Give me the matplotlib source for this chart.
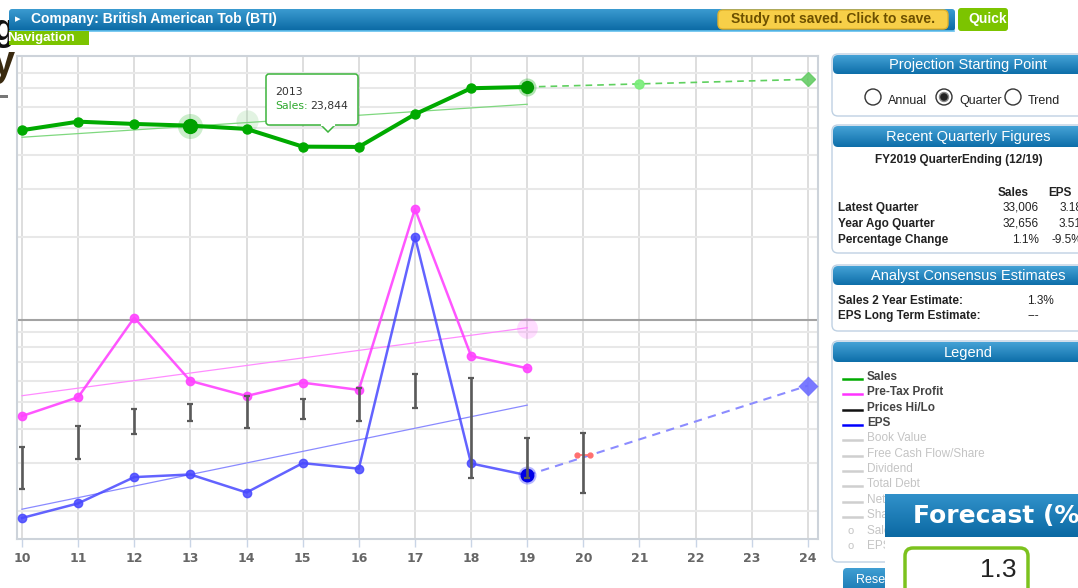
import numpy as np
import matplotlib
matplotlib.use("Agg")
import matplotlib.pyplot as plt
from matplotlib.patches import FancyBboxPatch, Circle, Polygon, Rectangle
from matplotlib.colors import to_rgb

# ---------------- data ----------------
years = [10, 11, 12, 13, 14, 15, 16, 17, 18, 19]
price_years = [10, 11, 12, 13, 14, 15, 16, 17, 18, 19, 20]
tick_years = [10, 11, 12, 13, 14, 15, 16, 17, 18, 19, 20, 21, 22, 23, 24]

sales = [22950, 24660, 24190, 23844, 23200, 19990, 19940, 26240, 32656, 33006]
pretax = [6760, 7920, 15450, 9080, 8000, 8950, 8420, 38520, 11200, 10100]
eps = [2.22, 2.51, 3.13, 3.20, 2.75, 3.52, 3.36, 23.6, 3.51, 3.18]
price_hi = [40.2, 48.2, 55.7, 57.9, 61.9, 60.4, 66.1, 74.5, 72.2, 43.4, 45.5]
price_lo = [28.3, 36.4, 44.9, 50.2, 47.2, 51.2, 50.2, 55.8, 31.0, 31.1, 27.5]

trend_x = [10, 19]
sales_trend = [21630, 28540]
pretax_trend = [8020, 14200]
eps_trend = [2.39, 5.73]

sales_proj_x = [19, 21, 24]
sales_proj = [33006, 33870, 35190]
eps_proj_x = [19, 24]
eps_proj = [3.18, 6.75]
eps_target_x = [19.89, 20.12]
eps_target = [3.78, 3.78]
sales_hover_x, sales_hover = 14, 24790

forecast_pct = "1.3"

# ---------------- figure ----------------
W, H = 1078, 588
fig = plt.figure(figsize=(W / 100, H / 100), dpi=100)
fig.patch.set_facecolor("white")


def rect(l, t, r, b):
    return [l / W, 1 - b / H, (r - l) / W, (b - t) / H]


# chart level range of the semi-log grid, each series is placed with its own factor
LEVEL_LO, LEVEL_HI = 1.587, 91.9
SALES_F, PRETAX_F, EPS_F, PRICE_F = 465.9, 1515.8, 1.1724, 11.724

ax = fig.add_axes(rect(17, 56, 818, 539))
ax.set_yscale("log")
ax.set_ylim(LEVEL_LO, LEVEL_HI)
ax.set_xlim(9.911, 24.18)
ax.set_xticks(tick_years)
ax.set_xticklabels([str(t) for t in tick_years])
ax.set_yticks([10])
ax.set_yticks([2, 3, 4, 5, 6, 7, 8, 9, 20, 30, 40, 50, 60, 70, 80], minor=True)
ax.yaxis.set_major_formatter(plt.NullFormatter())
ax.yaxis.set_minor_formatter(plt.NullFormatter())
ax.tick_params(axis="y", which="both", length=0)
ax.tick_params(axis="x", length=6, width=1, color="#c9d5e6", pad=3,
               labelcolor="#666666", labelsize=9)
for lab in ax.get_xticklabels():
    lab.set_fontweight("bold")
ax.grid(axis="x", which="major", color="#d4d4d4", lw=1.1)
ax.grid(axis="y", which="minor", color="#e8e8e8", lw=1.5)
ax.grid(axis="y", which="major", color="#a3a3a3", lw=1.5)
ax.set_axisbelow(True)
for s in ax.spines.values():
    s.set_color("#cdd3da")
    s.set_linewidth(1.5)


def series_axis(factor):
    t = ax.twinx()
    t.set_yscale("log")
    t.set_ylim(LEVEL_LO * factor, LEVEL_HI * factor)
    t.set_xlim(ax.get_xlim())
    t.axis("off")
    return t


ax_sales = series_axis(SALES_F)
ax_pre = series_axis(PRETAX_F)
ax_eps = series_axis(EPS_F)
ax_px = series_axis(PRICE_F)

GREEN = "#00aa00"
MAG = "#ff44ff"
BLUE = "#4848ff"

# sales
ax_sales.plot(trend_x, sales_trend, color="#7fd87f", lw=0.9, zorder=2)
ax_sales.plot(sales_proj_x, sales_proj, color="#5fd05f", lw=1.2, ls=(0, (4, 3)), zorder=2)
ax_sales.plot(sales_proj_x[1], sales_proj[1], "o", ms=6.5, color="#77ee77", alpha=0.9, zorder=3)
ax_sales.plot(sales_proj_x[2], sales_proj[2], "D", ms=7, color="#66cc66", alpha=0.9, zorder=3)
ax_sales.plot(sales_hover_x, sales_hover, "o", ms=16, color="#7fcc7f", alpha=0.22, mec="none", zorder=3)
ax_sales.plot(years, sales, color=GREEN, lw=2.9, marker="o", ms=6.5, zorder=4)
ax_sales.plot(years[3], sales[3], "o", ms=18, color=GREEN, alpha=0.2, mec="none", zorder=4)
ax_sales.plot(years[3], sales[3], "o", ms=10, color="#00a000", zorder=5)
ax_sales.plot(years[-1], sales[-1], "o", ms=13, color=GREEN, alpha=0.3, mec="none", zorder=4)
ax_sales.plot(years[-1], sales[-1], "o", ms=8.5, color="#009a00", zorder=5)

# pre-tax profit
ax_pre.plot(trend_x, pretax_trend, color="#ff8cff", lw=0.9, zorder=2)
ax_pre.plot(trend_x[1], pretax_trend[1], "o", ms=15, color="#ff66ff", alpha=0.22, mec="none", zorder=2)
ax_pre.plot(years, pretax, color=MAG, lw=1.8, marker="o", ms=6, alpha=0.9, zorder=4)

# price high / low bars
ax_px.vlines(price_years, price_lo, price_hi, color="#5a5a5a", lw=1.9, zorder=3)
ax_px.plot(price_years, price_hi, "_", ms=5, mew=1.6, color="#5a5a5a", zorder=3)
ax_px.plot(price_years, price_lo, "_", ms=5, mew=1.6, color="#5a5a5a", zorder=3)

# EPS
ax_eps.plot(trend_x, eps_trend, color="#8a8aff", lw=0.9, zorder=2)
ax_eps.plot(eps_proj_x, eps_proj, color="#8c8cff", lw=1.5, ls=(0, (4, 3)), zorder=2)
ax_eps.plot(eps_proj_x[1], eps_proj[1], "D", ms=10, color="#6b6bff", alpha=0.9, mec="none", zorder=3)
ax_eps.plot(eps_target_x, eps_target, color="#ff7070", lw=1.2, marker="o", ms=3.5, zorder=3)
ax_eps.plot(years, eps, color=BLUE, lw=1.8, marker="o", ms=6, alpha=0.85, zorder=4)
ax_eps.plot(years[-1], eps[-1], "o", ms=13, color="#3030ff", alpha=0.35, mec="none", zorder=4)
ax_eps.plot(years[-1], eps[-1], "o", ms=9, color="#0000e6", mec="#0000e6", zorder=5)

# ---------------- page furniture (pixel coordinates) ----------------
ui = fig.add_axes([0, 0, 1, 1], zorder=10)
ui.patch.set_alpha(0)
ui.axis("off")
SANS = "Liberation Sans"


def box(l, t, r, b, fc, ec="none", lw=1.0, rad=4, z=1, alpha=1.0):
    p = FancyBboxPatch((l, t), r - l, b - t, boxstyle=f"round,pad=0,rounding_size={rad}",
                       fc=fc, ec=ec, lw=lw, zorder=z, alpha=alpha)
    ui.add_patch(p)
    return p


def gradient_box(l, t, r, b, c_top, c_bot, rad=4, z=2):
    clip = box(l, t, r, b, "none", rad=rad, z=z)
    ct, cb = np.array(to_rgb(c_top)), np.array(to_rgb(c_bot))
    f = np.linspace(0, 1, 64)[:, None, None]
    img = ct * (1 - f) + cb * f
    im = ui.imshow(img, extent=(l, r, b, t), aspect="auto", interpolation="bilinear", zorder=z)
    im.set_clip_path(clip)


def txt(x, y, s, size=9, color="#222222", weight="normal", ha="left", family=SANS, z=6, **kw):
    ui.text(x, y, s, fontsize=size, color=color, fontweight=weight, ha=ha, va="center",
            family=family, zorder=z, **kw)


# large page title glyphs peeking out at the left edge
txt(-7, 30, "g", size=26, weight="bold", color="#111111", z=1)
txt(-8, 64, "y", size=30, weight="bold", color="#3a2a10", z=1)
ui.add_patch(Rectangle((0, 95), 8, 3, fc="#777777", zorder=1))

# company bar
gradient_box(9, 9, 955, 31, "#3b9bd0", "#0a69a4", rad=3, z=2)
ui.plot([10, 954], [30.5, 30.5], color="#62c0ee", lw=1.2, zorder=3)
txt(15, 19.5, "\u25B8", size=8, color="white", family="DejaVu Sans")
txt(31, 19.5, "Company: British American Tob (BTI)", size=10, color="white", weight="bold")
box(718, 10, 948, 29, "#f7cf48", ec="#e2b22a", lw=1, rad=5, z=4)
txt(833, 19.5, "Study not saved. Click to save.", size=10, color="#6d5000", weight="bold", ha="center")
box(958, 8, 1008, 31, "#7cc400", rad=3, z=4)
txt(968, 19.5, "Quick", size=10, color="white", weight="bold")
ui.add_patch(Rectangle((9, 31), 80, 14, fc="#7cc400", zorder=4))
txt(7, 38, "Navigation", size=9.5, color="white", weight="bold")

# right side panels
PL, PR = 832, 1104
PANEL_TOP = "#45a2d6"
PANEL_BOT = "#0d6ea9"


def panel(t, b, title, hb):
    box(PL, t, PR, b, "white", ec="#bfd1e3", lw=1.0, rad=6, z=2)
    gradient_box(PL + 1, t + 1, PR - 1, hb, PANEL_TOP, PANEL_BOT, rad=5, z=3)
    txt(968, (t + hb) / 2 + 1, title, size=10.5, color="white", ha="center")


panel(54, 116, "Projection Starting Point", 74)
for cx, lab, sel in [(873, "Annual", False), (944, "Quarter", True), (1013, "Trend", False)]:
    ui.add_patch(Circle((cx, 97), 8, fc="white", ec="#333333", lw=1.0, zorder=5))
    if sel:
        ui.add_patch(Circle((cx, 97), 4.5, fc="#222222", ec="#888888", lw=1.0, zorder=6))
    txt(cx + 15, 101, lab, size=9, color="#222222")

panel(125, 253, "Recent Quarterly Figures", 147)
txt(959, 160, "FY2019 QuarterEnding (12/19)", size=8.5, weight="bold", ha="center")
txt(1029, 193, "Sales", size=8.5, weight="bold", ha="right")
txt(1072, 193, "EPS", size=8.5, weight="bold", ha="right")
rows = [("Latest Quarter", "33,006", "3.18"),
        ("Year Ago Quarter", "32,656", "3.51"),
        ("Percentage Change", "1.1%", "-9.5%")]
for i, (lab, s, e) in enumerate(rows):
    y = 208 + 16 * i
    txt(838, y, lab, size=8.5, weight="bold")
    txt(1039, y, s, size=8.5, ha="right")
    txt(1082, y, e, size=8.5, ha="right")

panel(265, 331, "Analyst Consensus Estimates", 285)
txt(838, 300.5, "Sales 2 Year Estimate:", size=8.5, weight="bold")
txt(1027, 300.5, "1.3%", size=8.5)
txt(838, 316.5, "EPS Long Term Estimate:", size=8.5, weight="bold")
txt(1027, 316.5, "---", size=8.5)

panel(341, 562, "Legend", 362)
legend_rows = [("Sales", GREEN, True), ("Pre-Tax Profit", "#ff33ff", True),
               ("Prices Hi/Lo", "#111111", True), ("EPS", "#0000ff", True),
               ("Book Value", None, False), ("Free Cash Flow/Share", None, False),
               ("Dividend", None, False), ("Total Debt", None, False),
               ("Net Profit", None, False), ("Shares Outstanding", None, False),
               ("Sales Growth", "o", False), ("EPS Growth", "o", False)]
for i, (lab, col, active) in enumerate(legend_rows):
    y = 377 + 15.35 * i
    if col == "o":
        txt(848, y, "o", size=8, color="#c4c4c4")
    else:
        ui.plot([843, 862], [y + 2, y + 2], color=col if col else "#cfcfcf", lw=1.8, zorder=5)
    txt(867, y, lab, size=8.5, weight="bold" if active else "normal",
        color="#444444" if active else "#c4c4c4")

gradient_box(843, 568, 900, 600, "#3f9ed3", "#0e6ea9", rad=4, z=4)
txt(856, 580, "Rese", size=9, color="white", z=5)

# forecast overlay
ui.add_patch(Rectangle((885, 537), 200, 60, fc="white", ec="none", zorder=7))
ui.add_patch(Rectangle((885, 494), 200, 43, fc="#1678b3", ec="none", zorder=7))
gradient_box(885, 494, 1085, 537, "#3191ca", "#0b69a3", rad=0, z=7)
ui.text(913, 516, "Forecast (%)", fontsize=18, color="white", fontweight="bold",
        family="DejaVu Sans", va="center", ha="left", zorder=8)
box(905, 548, 1028, 600, "white", ec="#7cc21e", lw=2.5, rad=8, z=8)
ui.text(1017, 570, forecast_pct, fontsize=19, color="#222222", family=SANS,
        va="center", ha="right", zorder=9)

# hover tooltip for the 2013 sales point
box(268, 76, 360, 127, "#000000", rad=3, z=6, alpha=0.08)
box(266, 74, 358, 125, "white", ec="#3cb43c", lw=1.1, rad=3, z=7)
ui.add_patch(Polygon([(321, 125), (328, 132), (335, 125)], closed=True,
                     fc="white", ec="#3cb43c", lw=1.1, zorder=7))
ui.plot([321.8, 334.2], [125, 125], color="white", lw=1.6, zorder=8)
txt(275, 92, "2013", size=7.8, color="#333333", family="DejaVu Sans", z=9)
txt(275, 106, "Sales:", size=7.8, color="#2ea82e", family="DejaVu Sans", z=9)
txt(310, 106, f"{sales[3]:,}", size=7.8, color="#333333", family="DejaVu Sans", z=9)

ui.set_xlim(0, W)
ui.set_ylim(H, 0)

fig.savefig("out.png", dpi=100, facecolor="white")
